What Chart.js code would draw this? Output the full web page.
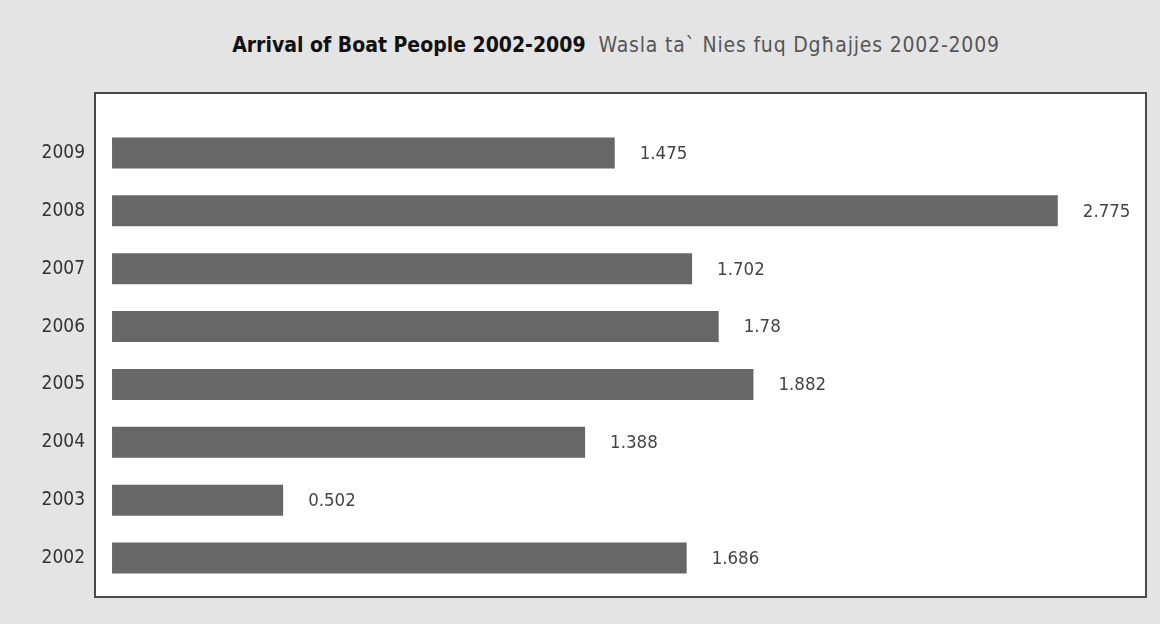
<!DOCTYPE html>
<html>
<head>
<meta charset="utf-8">
<script src="https://cdn.jsdelivr.net/npm/chart.js@4.4.1/dist/chart.umd.min.js"></script>
<style>
  html, body { margin: 0; padding: 0; background: #e4e4e4; }
  #wrap { position: relative; width: 1160px; height: 624px; }
  #title {
    position: absolute; left: 0; top: 33px; width: 1160px; text-align: center;
    font-family: "DejaVu Sans Condensed", "DejaVu Sans", sans-serif; font-size: 21px;
    white-space: nowrap; padding-left: 72px; box-sizing: border-box;
  }
  #title b { color: #111; }
  #title span { color: #555; margin-left: 13px; letter-spacing: 0.8px; }
  canvas { position: absolute; left: 0; top: 0; }
</style>
</head>
<body>
<div id="wrap">
  <div id="title"><b>Arrival of Boat People 2002-2009</b><span>Wasla ta` Nies fuq Dgħajjes 2002-2009</span></div>
  <canvas id="js-chart" width="1160" height="624"></canvas>
</div>
<script>
const years = ["2002", "2003", "2004", "2005", "2006", "2007", "2008", "2009"];
const arrivals = [1.686, 0.502, 1.388, 1.882, 1.78, 1.702, 2.775, 1.475];
const valueLabels = ["1.686", "0.502", "1.388", "1.882", "1.78", "1.702", "2.775", "1.475"];

const FONT = "'DejaVu Sans Condensed', 'DejaVu Sans', sans-serif";

// white plot box with dark border behind the bars
const plotBox = {
  id: "plotBox",
  beforeDraw(chart) {
    const { ctx, chartArea: a } = chart;
    ctx.save();
    ctx.fillStyle = "#ffffff";
    ctx.fillRect(a.left, a.top - 31, a.right - a.left + 3, a.bottom - a.top + 41);
    ctx.strokeStyle = "#4a4a4a";
    ctx.lineWidth = 2;
    ctx.strokeRect(a.left, a.top - 31, a.right - a.left + 3, a.bottom - a.top + 41);
    ctx.restore();
  },
};

// value text to the right of each bar
const barValues = {
  id: "barValues",
  afterDatasetsDraw(chart) {
    const { ctx } = chart;
    const meta = chart.getDatasetMeta(0);
    ctx.save();
    ctx.font = "18.5px " + FONT;
    ctx.fillStyle = "#444";
    ctx.textAlign = "left";
    ctx.textBaseline = "middle";
    meta.data.forEach((bar, i) => {
      ctx.fillText(valueLabels[i], bar.x + 25, bar.y + 1);
    });
    ctx.restore();
  },
};

(function main() {
  const canvas = document.getElementById("js-chart");
  new Chart(canvas, {
    type: "bar",
    data: {
      labels: years,
      datasets: [{
        data: arrivals,
        backgroundColor: "#676767",
        borderWidth: 0,
        barPercentage: 0.535,
        categoryPercentage: 1,
      }],
    },
    options: {
      indexAxis: "y",
      responsive: false,
      animation: false,
      layout: { padding: { left: 0, right: 17, top: 124, bottom: 37 } },
      plugins: { legend: { display: false }, tooltip: { enabled: false } },
      scales: {
        x: { display: false, min: -0.05, max: 3.025 },
        y: {
          reverse: true,
          grid: { display: false, drawTicks: false },
          border: { display: false },
          afterFit: (axis) => { axis.width = 95; },
          ticks: { padding: 10, color: "#333", font: { family: FONT, size: 19 } },
        },
      },
    },
    plugins: [plotBox, barValues],
  });
})();
</script>
</body>
</html>
